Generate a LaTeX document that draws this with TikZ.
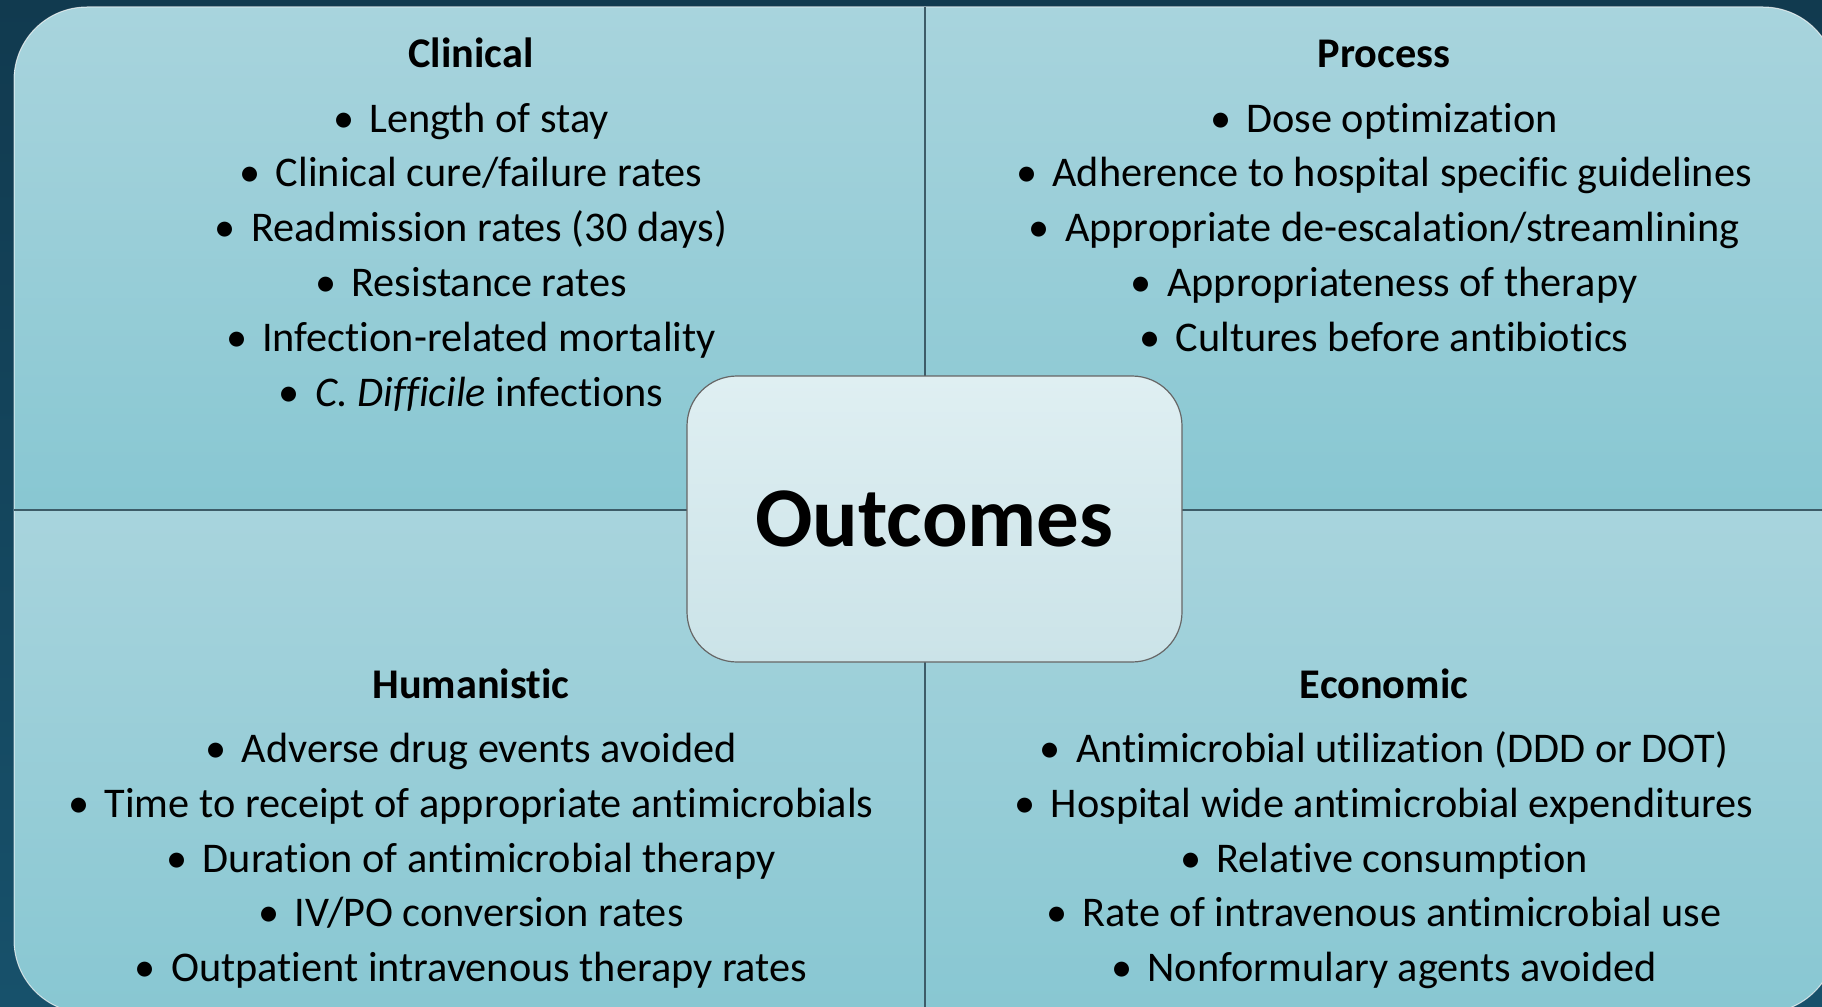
\documentclass[tikz,border=0pt]{standalone}
\usepackage{fontspec}
\setmainfont{Carlito}[Ligatures=NoCommon]
\usetikzlibrary{positioning}

\definecolor{bgtop}{HTML}{113A4F}
\definecolor{bgbot}{HTML}{17516B}
\definecolor{quadtop}{HTML}{A8D4DD}
\definecolor{quadbot}{HTML}{88C7D2}
\definecolor{boxtop}{HTML}{DFEFF2}
\definecolor{boxbot}{HTML}{CBE3E8}
\definecolor{divline}{HTML}{3D5C68}

\newcommand{\blt}{\textbullet\hspace{0.36em}}

\tikzset{
	quad/.style={top color=quadtop, bottom color=quadbot},
	head/.style={font=\fontsize{42.3}{50}\selectfont\bfseries, anchor=base, inner sep=0pt},
	item/.style={font=\fontsize{42.3}{50}\selectfont, anchor=base, inner sep=0pt},
	outbox/.style={draw=gray!80!black, line width=1.2pt, rounded corners=50pt, top color=boxtop, bottom color=boxbot, minimum width=495pt, minimum height=286pt, font=\fontsize{85}{100}\selectfont\bfseries, inner sep=0pt},
}

\begin{document}
\begin{tikzpicture}[x=1pt,y=-1pt]
		\useasboundingbox (0,0) rectangle (1822,1006);
		\fill[top color=bgtop, bottom color=bgbot] (0,0) rectangle (1822,1006);
		\coordinate (TL) at (14,7);
		\coordinate (TM) at (925,7);
		\coordinate (TR) at (1836,7);
		\coordinate (ML) at (14,510);
		\coordinate (C) at (925,510);
		\coordinate (MR) at (1836,510);
		\coordinate (BL) at (14,1013);
		\coordinate (BM) at (925,1013);
		\coordinate (BR) at (1836,1013);
		\begin{scope}
			\clip[rounded corners=73pt] (TL) rectangle (BR);
			\fill[quad] (TL) rectangle (C);
			\fill[quad] (TM) rectangle (MR);
			\fill[quad] (ML) rectangle (BM);
			\fill[quad] (C) rectangle (BR);
		\end{scope}
		\draw[white, opacity=0.7, line width=1pt, rounded corners=73pt] (TL) rectangle (BR);
		\draw[divline, line width=1.5pt] (TM)--(BM);
		\draw[divline, line width=1.5pt] (ML)--(MR);
		\node[head] (clin) at (471,67.5) {Clinical};
		\foreach \txt [count=\i] in {Length of stay, Clinical cure/failure rates, Readmission rates (30 days), Resistance rates, Infection-related mortality, {\textit{C. Difficile} infections}}
			\node[item] (clin\i) at (471,{132+54.8*(\i-1)}) {\blt\txt};
		\node[head] (proc) at (1384,67.5) {Process};
		\foreach \txt [count=\i] in {Dose optimization, Adherence to hospital specific guidelines, Appropriate de-escalation/streamlining, Appropriateness of therapy, Cultures before antibiotics}
			\node[item] (proc\i) at (1384,{132+54.8*(\i-1)}) {\blt\txt};
		\node[head] (hum) at (471,698) {Humanistic};
		\foreach \txt [count=\i] in {Adverse drug events avoided, Time to receipt of appropriate antimicrobials, Duration of antimicrobial therapy, IV/PO conversion rates, Outpatient intravenous therapy rates}
			\node[item] (hum\i) at (471,{762.5+54.8*(\i-1)}) {\blt\txt};
		\node[head] (eco) at (1384,698) {Economic};
		\foreach \txt [count=\i] in {Antimicrobial utilization (DDD or DOT), Hospital wide antimicrobial expenditures, Relative consumption, Rate of intravenous antimicrobial use, Nonformulary agents avoided}
			\node[item] (eco\i) at (1384,{762.5+54.8*(\i-1)}) {\blt\txt};
		\node[outbox] (out) at (934.5,519) {Outcomes};
	\end{tikzpicture}
\end{document}
